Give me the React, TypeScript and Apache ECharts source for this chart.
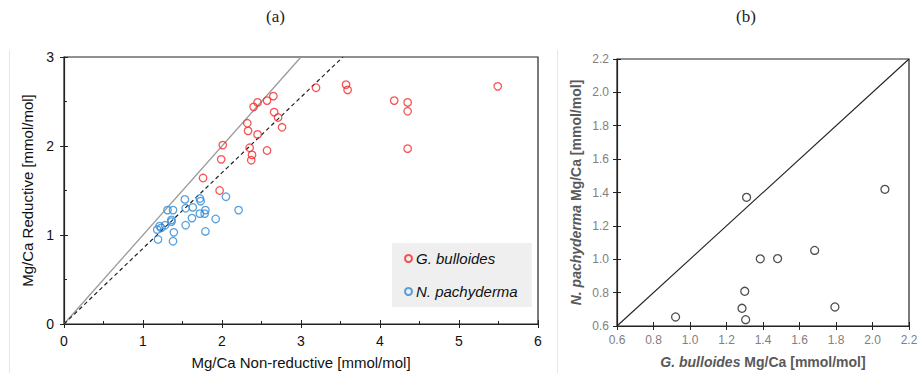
import React, { useEffect, useRef } from "react";
import * as echarts from "echarts";

// ---- Panel (a): Mg/Ca reductive vs non-reductive ----
const gBulloidesX = [3.19, 3.57, 3.59, 2.65, 2.57, 2.45, 2.40, 2.66, 2.71, 2.32, 2.76, 2.33, 2.45, 2.01, 2.35, 2.38, 2.37, 2.57, 1.99, 1.76, 1.97, 4.18, 4.35, 4.35, 4.35, 5.49];
const gBulloidesY = [2.655, 2.69, 2.63, 2.56, 2.51, 2.49, 2.44, 2.38, 2.32, 2.255, 2.21, 2.17, 2.13, 2.01, 1.98, 1.90, 1.84, 1.95, 1.85, 1.64, 1.50, 2.51, 2.49, 2.39, 1.97, 2.67];

const nPachydermaX = [2.05, 1.53, 1.72, 1.73, 1.31, 1.38, 1.54, 1.63, 2.21, 1.79, 1.78, 1.72, 1.62, 1.92, 1.36, 1.36, 1.28, 1.54, 1.21, 1.23, 1.18, 1.39, 1.79, 1.19, 1.38];
const nPachydermaY = [1.43, 1.40, 1.41, 1.38, 1.28, 1.28, 1.30, 1.31, 1.28, 1.28, 1.24, 1.24, 1.19, 1.18, 1.17, 1.15, 1.11, 1.11, 1.10, 1.08, 1.06, 1.03, 1.04, 0.95, 0.93];

const oneToOneLine = [[0, 0], [3, 3]];
const dashedFitLine = [[0, 0], [3.53, 3]];

// ---- Panel (b): N. pachyderma vs G. bulloides Mg/Ca ----
const gbMgCa = [0.921, 1.31, 2.068, 1.385, 1.48, 1.683, 1.30, 1.285, 1.305, 1.794];
const npMgCa = [0.654, 1.371, 1.419, 1.0025, 1.004, 1.053, 0.808, 0.706, 0.638, 0.714];
const rightDiagonal = [[0.6, 0.6], [2.2, 2.2]];

const RED = "#f42b2b";
const BLUE = "#2f8ad6";
const SANS = "Liberation Sans, Arial, sans-serif";

const zip = (xs: number[], ys: number[]) => xs.map((x, i) => [x, ys[i]]);

export default function App() {
  const ref = useRef<HTMLDivElement>(null);
  useEffect(() => {
    if (!ref.current) return;
    const chart = echarts.init(ref.current, undefined, { renderer: "svg" });

    const leftAxisCommon = {
      axisLine: { show: true, onZero: false, lineStyle: { color: "#222", width: 1.2 } },
      splitLine: { show: false },
    };

    const option: any = {
      animation: false,
      backgroundColor: "#fff",
      textStyle: { fontFamily: SANS },
      grid: [
        { left: 64, top: 57, width: 474, height: 267, outerBoundsMode: "none", containLabel: false, show: true, borderColor: "#222", borderWidth: 1.2, backgroundColor: "transparent" },
        { left: 617, top: 59, width: 292, height: 267, outerBoundsMode: "none", containLabel: false, show: true, borderColor: "#222", borderWidth: 1.2, backgroundColor: "transparent" },
      ],
      legend: {
        data: ["G. bulloides", "N. pachyderma"],
        orient: "vertical",
        left: 392,
        top: 243,
        backgroundColor: "#efefef",
        padding: [8, 14, 8, 12],
        itemGap: 18,
        itemWidth: 7,
        itemHeight: 7,
        textStyle: { fontStyle: "italic", fontSize: 15, color: "#111", fontFamily: SANS, padding: [0, 0, 0, -1] },
      },
      xAxis: [
        {
          gridIndex: 0, type: "value", min: 0, max: 6, interval: 1, position: "bottom",
          ...leftAxisCommon,
          axisTick: { show: true, inside: false, length: 4, lineStyle: { color: "#222" } },
          axisLabel: { fontSize: 14, color: "#111", margin: 10, fontFamily: SANS },
          name: "Mg/Ca Non-reductive [mmol/mol]", nameLocation: "middle", nameGap: 31,
          nameTextStyle: { fontSize: 15, color: "#111", fontFamily: SANS },
        },
        {
          gridIndex: 0, type: "value", min: 0, max: 6, interval: 1, position: "bottom",
          axisLine: { show: false }, splitLine: { show: false }, axisLabel: { show: false },
          axisTick: { show: true, inside: true, length: 4, lineStyle: { color: "#222" } },
          minorTick: { show: true, splitNumber: 2, length: 3, lineStyle: { color: "#222" } },
        },
        {
          gridIndex: 1, type: "value", min: 0.6, max: 2.2, interval: 0.2, position: "bottom",
          axisLine: { show: true, onZero: false, lineStyle: { color: "#222", width: 1.2 } },
          splitLine: { show: false },
          axisTick: { show: true, inside: false, length: 4, lineStyle: { color: "#222" } },
          axisLabel: { fontSize: 12, color: "#808080", margin: 8, fontFamily: SANS, formatter: (v: number) => v.toFixed(1) },
          name: "{i|G. bulloides} Mg/Ca [mmol/mol]", nameLocation: "middle", nameGap: 29,
          nameTextStyle: {
            fontSize: 14, fontWeight: "bold", color: "#595959", fontFamily: SANS,
            rich: { i: { fontSize: 14, fontWeight: "bold", fontStyle: "italic", color: "#595959", fontFamily: SANS } },
          },
        },
        {
          gridIndex: 1, type: "value", min: 0.6, max: 2.2, interval: 0.2, position: "bottom",
          axisLine: { show: false }, splitLine: { show: false }, axisLabel: { show: false },
          axisTick: { show: true, inside: true, length: 4, lineStyle: { color: "#222" } },
        },
      ],
      yAxis: [
        {
          gridIndex: 0, type: "value", min: 0, max: 3, interval: 1, position: "left",
          ...leftAxisCommon,
          axisTick: { show: true, inside: false, length: 4, lineStyle: { color: "#222" } },
          axisLabel: { fontSize: 14, color: "#111", margin: 10, fontFamily: SANS },
          name: "Mg/Ca Reductive [mmol/mol]", nameLocation: "middle", nameGap: 25,
          nameTextStyle: { fontSize: 15, color: "#111", fontFamily: SANS },
        },
        {
          gridIndex: 0, type: "value", min: 0, max: 3, interval: 1, position: "left",
          axisLine: { show: false }, splitLine: { show: false }, axisLabel: { show: false },
          axisTick: { show: true, inside: true, length: 4, lineStyle: { color: "#222" } },
          minorTick: { show: true, splitNumber: 2, length: 3, lineStyle: { color: "#222" } },
        },
        {
          gridIndex: 1, type: "value", min: 0.6, max: 2.2, interval: 0.2, position: "left",
          axisLine: { show: true, onZero: false, lineStyle: { color: "#222", width: 1.2 } },
          splitLine: { show: false },
          axisTick: { show: true, inside: false, length: 4, lineStyle: { color: "#222" } },
          axisLabel: { fontSize: 12, color: "#808080", margin: 8, fontFamily: SANS, formatter: (v: number) => v.toFixed(1) },
          name: "{i|N. pachyderma} Mg/Ca [mmol/mol]", nameLocation: "middle", nameGap: 34,
          nameTextStyle: {
            fontSize: 14, fontWeight: "bold", color: "#595959", fontFamily: SANS,
            rich: { i: { fontSize: 14, fontWeight: "bold", fontStyle: "italic", color: "#595959", fontFamily: SANS } },
          },
        },
        {
          gridIndex: 1, type: "value", min: 0.6, max: 2.2, interval: 0.2, position: "left",
          axisLine: { show: false }, splitLine: { show: false }, axisLabel: { show: false },
          axisTick: { show: true, inside: true, length: 4, lineStyle: { color: "#222" } },
        },
      ],
      graphic: [
        { type: "text", left: 266, top: 8, style: { text: "(a)", fontSize: 17, fontFamily: "Liberation Serif, serif", fill: "#222" } },
        { type: "text", left: 736, top: 8, style: { text: "(b)", fontSize: 17, fontFamily: "Liberation Serif, serif", fill: "#222" } },
        { type: "line", shape: { x1: 9.5, y1: 50, x2: 9.5, y2: 373 }, style: { stroke: "#e6e6e6", lineWidth: 1 } },
        { type: "line", shape: { x1: 557.5, y1: 50, x2: 557.5, y2: 373 }, style: { stroke: "#e6e6e6", lineWidth: 1 } },
      ],
      series: [
        {
          name: "1:1", type: "line", xAxisIndex: 0, yAxisIndex: 0, data: oneToOneLine, symbol: "none",
          lineStyle: { color: "#9a9a9a", width: 1.3 }, silent: true, z: 1,
        },
        {
          name: "fit", type: "line", xAxisIndex: 0, yAxisIndex: 0, data: dashedFitLine, symbol: "none",
          lineStyle: { color: "#222", width: 1.2, type: [4, 3] }, silent: true, z: 1,
        },
        {
          name: "G. bulloides", type: "scatter", xAxisIndex: 0, yAxisIndex: 0, data: zip(gBulloidesX, gBulloidesY),
          symbol: "circle", symbolSize: 7.5,
          itemStyle: { color: "rgba(255,255,255,0)", borderColor: RED, borderWidth: 1.3 }, z: 3,
        },
        {
          name: "N. pachyderma", type: "scatter", xAxisIndex: 0, yAxisIndex: 0, data: zip(nPachydermaX, nPachydermaY),
          symbol: "circle", symbolSize: 7.5,
          itemStyle: { color: "rgba(255,255,255,0)", borderColor: BLUE, borderWidth: 1.3 }, z: 3,
        },
        {
          name: "diag", type: "line", xAxisIndex: 2, yAxisIndex: 2, data: rightDiagonal, symbol: "none",
          lineStyle: { color: "#222", width: 1.1 }, silent: true, z: 1,
        },
        {
          name: "paired", type: "scatter", xAxisIndex: 2, yAxisIndex: 2, data: zip(gbMgCa, npMgCa),
          symbol: "circle", symbolSize: 8,
          itemStyle: { color: "rgba(255,255,255,0)", borderColor: "#222", borderWidth: 1.3 }, z: 3,
        },
      ],
    };
    chart.setOption(option);
    return () => chart.dispose();
  }, []);
  return <div ref={ref} style={{ position: "absolute", left: 0, top: 0, width: 917, height: 373 }} />;
}
